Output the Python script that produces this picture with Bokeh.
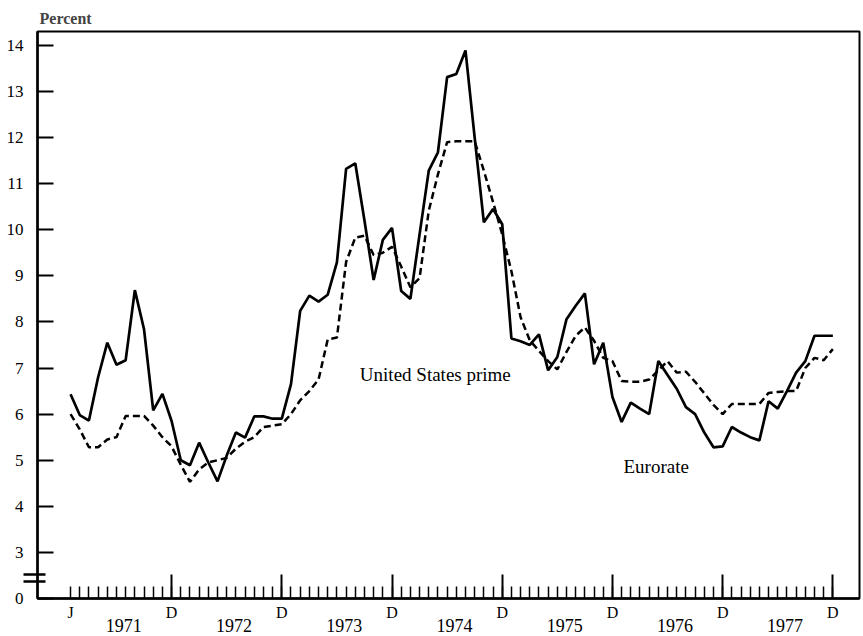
from bokeh.plotting import figure
from bokeh.models import ColumnDataSource, FixedTicker, LinearAxis, Range1d
from bokeh.core.properties import value
from bokeh.embed import file_html
from bokeh.resources import INLINE

# Monthly interest rates, January 1971 - December 1977 (percent)
eurorate = [
    6.43, 5.98, 5.86, 6.80, 7.55, 7.07, 7.17, 8.69, 7.84, 6.08, 6.44, 5.85,   # 1971
    5.00, 4.89, 5.38, 4.95, 4.54, 5.10, 5.60, 5.49, 5.95, 5.95, 5.90, 5.90,   # 1972
    6.65, 8.24, 8.57, 8.44, 8.59, 9.29, 11.32, 11.44, 10.20, 8.91, 9.78, 10.04,  # 1973
    8.67, 8.50, 9.90, 11.28, 11.68, 13.31, 13.38, 13.89, 12.00, 10.16, 10.45, 10.12,  # 1974
    7.64, 7.58, 7.50, 7.73, 6.95, 7.24, 8.06, 8.35, 8.62, 7.08, 7.55, 6.37,   # 1975
    5.83, 6.25, 6.12, 6.00, 7.15, 6.85, 6.55, 6.15, 6.00, 5.60, 5.28, 5.30,   # 1976
    5.72, 5.60, 5.50, 5.43, 6.28, 6.12, 6.50, 6.90, 7.15, 7.70, 7.70, 7.70,   # 1977
]
us_prime = [
    6.00, 5.67, 5.28, 5.28, 5.45, 5.50, 5.96, 5.96, 5.96, 5.75, 5.50, 5.30,   # 1971
    4.90, 4.53, 4.80, 4.95, 5.00, 5.05, 5.25, 5.40, 5.50, 5.72, 5.75, 5.78,   # 1972
    6.00, 6.30, 6.50, 6.75, 7.62, 7.66, 9.30, 9.83, 9.87, 9.45, 9.50, 9.63,   # 1973
    9.20, 8.75, 8.95, 10.41, 11.20, 11.90, 11.92, 11.92, 11.92, 11.28, 10.60, 9.90,  # 1974
    9.10, 8.10, 7.60, 7.37, 7.15, 6.97, 7.35, 7.70, 7.88, 7.59, 7.22, 7.15,   # 1975
    6.72, 6.70, 6.70, 6.75, 6.95, 7.15, 6.90, 6.92, 6.70, 6.45, 6.20, 6.00,   # 1976
    6.22, 6.22, 6.22, 6.22, 6.46, 6.48, 6.50, 6.50, 7.00, 7.22, 7.17, 7.41,   # 1977
]
years = ["1971", "1972", "1973", "1974", "1975", "1976", "1977"]
y_ticks = [2, 3, 4, 5, 6, 7, 8, 9, 10, 11, 12, 13, 14]
y_tick_labels = {2: "0"}          # broken axis: the bottom of the scale reads zero
y_break = [2.37, 2.52]

months = list(range(len(eurorate)))
decembers = [12 * i + 11 for i in range(len(years))]
year_centres = [12 * i + 5.8 for i in range(len(years))]

month_labels = {m: "" for m in months}
month_labels[0] = "J"
for d in decembers:
    month_labels[d] = "D"

SERIF = "Liberation Serif"

p = figure(width=863, height=636, output_backend="svg", toolbar_location=None,
           x_range=Range1d(-3.6, 85.9), y_range=Range1d(2.0, 14.3),
           x_axis_location=None, y_axis_location=None,
           min_border_left=37, min_border_right=4, min_border_top=31,
           min_border_bottom=38)
p.grid.visible = False
p.background_fill_color = "white"
p.border_fill_color = "white"
p.outline_line_color = "black"
p.outline_line_width = 2

p.title.text = "Percent"
p.title.text_font = SERIF
p.title.text_font_style = "bold"
p.title.text_font_size = "16px"
p.title.align = "left"
p.title.offset = 2
p.title.standoff = 9

# vertical axis with the break marks near its foot
yaxis = LinearAxis(
    ticker=FixedTicker(ticks=y_ticks, minor_ticks=y_break),
    major_label_overrides=y_tick_labels,
    axis_line_width=2.5, axis_line_color="black",
    major_tick_in=16, major_tick_out=0, major_tick_line_width=2,
    minor_tick_in=8, minor_tick_out=14, minor_tick_line_width=2.5,
    major_label_standoff=0,
    major_label_text_font=SERIF, major_label_text_font_size="17px",
    major_label_text_color="black",
)
p.add_layout(yaxis, "left")

# monthly ticks, December ticks taller
xaxis = LinearAxis(
    ticker=FixedTicker(ticks=months, minor_ticks=decembers),
    major_label_overrides=month_labels,
    axis_line_width=2.5, axis_line_color="black",
    major_tick_in=12, major_tick_out=0, major_tick_line_width=1.5,
    minor_tick_in=24, minor_tick_out=0, minor_tick_line_width=2,
    major_label_standoff=5,
    major_label_text_font=SERIF, major_label_text_font_size="16px",
    major_label_text_color="black",
)
p.add_layout(xaxis, "below")

year_axis = LinearAxis(
    ticker=FixedTicker(ticks=year_centres, minor_ticks=[]),
    major_label_overrides={c: y for c, y in zip(year_centres, years)},
    axis_line_color=None, major_tick_line_color=None, minor_tick_line_color=None,
    major_tick_in=0, major_tick_out=0,
    major_label_standoff=-5,
    major_label_text_font=SERIF, major_label_text_font_size="18px",
    major_label_text_color="black",
)
p.add_layout(year_axis, "below")

src = ColumnDataSource(dict(month=months, euro=eurorate, prime=us_prime))
p.line("month", "euro", source=src, line_color="black", line_width=2.7)
p.line("month", "prime", source=src, line_color="black", line_width=2.5,
       line_dash="7 4")

p.text(x=[31.5], y=[6.87], text=["United States prime"], text_font=value(SERIF),
       text_font_size="19px", text_baseline="middle", text_align="left",
       text_color="black")
p.text(x=[60.2], y=[4.87], text=["Eurorate"], text_font=value(SERIF),
       text_font_size="19px", text_baseline="middle", text_align="left",
       text_color="black")

open("out.html", "w").write(file_html(p, INLINE))
